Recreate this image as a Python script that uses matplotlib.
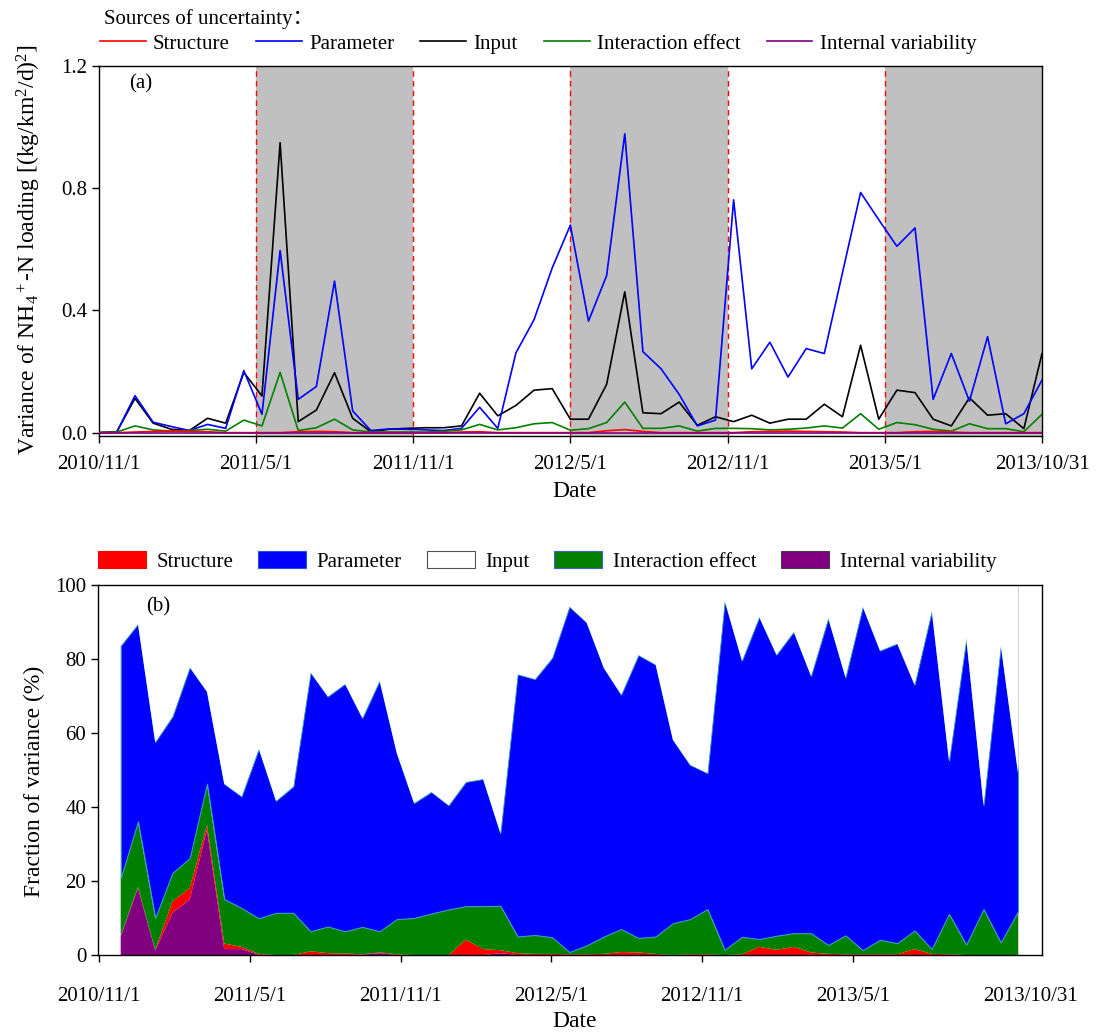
import matplotlib
matplotlib.use('Agg')
import matplotlib.pyplot as plt
import numpy as np
from matplotlib.patches import Patch
from matplotlib.lines import Line2D

plt.rcParams['font.family'] = ['Liberation Serif', 'Noto Sans CJK SC', 'DejaVu Sans']
plt.rcParams['mathtext.fontset'] = 'custom'
plt.rcParams['mathtext.rm'] = 'Liberation Serif'
plt.rcParams['mathtext.it'] = 'Liberation Serif:italic'

# ---------------- data ----------------
sources = ['Structure', 'Parameter', 'Input', 'Interaction effect', 'Internal variability']
tick_labels = ['2010/11/1', '2011/5/1', '2011/11/1', '2012/5/1', '2012/11/1', '2013/5/1', '2013/10/31']

# (a) variance of NH4+-N loading
var_structure = [0, 0, 0.002, 0.004, 0.005, 0.004, 0.003, 0, 0, 0,
                 0, 0.003, 0.004, 0.003, 0, 0, 0, 0, 0, 0,
                 0.002, 0.003, 0, 0, 0, 0, 0, 0, 0.006, 0.010,
                 0.004, 0, 0, 0, 0, 0, 0.003, 0.004, 0.005, 0.004,
                 0.003, 0.002, 0, 0, 0, 0.003, 0.004, 0.002, 0, 0,
                 0, 0, 0]
var_parameter = [0, 0.002, 0.121, 0.034, 0.020, 0.007, 0.027, 0.014, 0.203, 0.060,
                 0.596, 0.109, 0.151, 0.496, 0.071, 0.007, 0.012, 0.011, 0.009, 0.007,
                 0.014, 0.083, 0.014, 0.261, 0.370, 0.539, 0.679, 0.365, 0.514, 0.978,
                 0.265, 0.209, 0.125, 0.022, 0.041, 0.762, 0.209, 0.296, 0.182, 0.275,
                 0.259, 0.523, 0.786, 0.697, 0.610, 0.670, 0.109, 0.259, 0.103, 0.314,
                 0.029, 0.062, 0.172]
var_input = [0, 0.003, 0.112, 0.031, 0.011, 0.007, 0.047, 0.031, 0.197, 0.120,
             0.949, 0.036, 0.074, 0.196, 0.047, 0.003, 0.011, 0.014, 0.016, 0.016,
             0.022, 0.129, 0.055, 0.089, 0.139, 0.144, 0.044, 0.044, 0.158, 0.461,
             0.065, 0.062, 0.100, 0.024, 0.052, 0.036, 0.057, 0.031, 0.044, 0.044,
             0.093, 0.052, 0.286, 0.044, 0.139, 0.131, 0.044, 0.022, 0.114, 0.057,
             0.062, 0.013, 0.259]
var_interaction = [0, 0.002, 0.022, 0.009, 0.005, 0.007, 0.011, 0.005, 0.041, 0.022,
                   0.197, 0.007, 0.016, 0.044, 0.009, 0.002, 0.002, 0.002, 0.002, 0.004,
                   0.009, 0.027, 0.009, 0.016, 0.029, 0.033, 0.008, 0.013, 0.033, 0.100,
                   0.014, 0.014, 0.022, 0.005, 0.014, 0.014, 0.013, 0.009, 0.011, 0.015,
                   0.022, 0.015, 0.062, 0.011, 0.033, 0.026, 0.011, 0.005, 0.029, 0.013,
                   0.013, 0.003, 0.060]
var_internal = [0.0] * 53

# (b) fraction of variance (%)
frac_internal = [5.0, 18.1, 1.2, 11.4, 15.0, 33.9, 1.6, 1.6, 0.1, 0,
                 0, 0, 0, 0, 0.1, 0.5, 0, 0, 0, 0,
                 0, 0, 0.5, 0, 0, 0, 0, 0, 0, 0,
                 0, 0, 0, 0, 0, 0, 0, 0, 0, 0,
                 0, 0, 0, 0, 0, 0, 0, 0, 0, 0,
                 0, 0, 0]
frac_structure = [0.2, 0.3, 0.2, 3.1, 3.1, 1.3, 1.5, 0.6, 0.2, 0,
                  0, 1.0, 0.5, 0.4, 0.1, 0.2, 0.2, 0, 0, 0,
                  4.1, 1.6, 0.8, 0.5, 0.3, 0.3, 0.2, 0.2, 0.3, 0.8,
                  0.7, 0.3, 0, 0.2, 0.2, 0, 0.2, 2.2, 1.4, 2.2,
                  0.7, 0.3, 0.2, 0.2, 0.2, 0.2, 1.6, 0.3, 0.2, 0,
                  0, 0, 0]
frac_interaction = [15.6, 17.7, 8.6, 7.7, 8.1, 11.1, 12.0, 10.5, 9.6, 11.4,
                    11.4, 5.4, 7.2, 6.0, 7.4, 5.7, 9.5, 10.0, 11.2, 12.3,
                    9.1, 11.6, 12.0, 4.5, 5.1, 4.5, 0.6, 2.4, 4.7, 6.2,
                    3.9, 4.7, 8.6, 9.5, 12.2, 1.4, 4.7, 2.1, 3.8, 3.7,
                    5.2, 2.4, 5.1, 1.1, 3.9, 3.0, 5.0, 1.3, 10.9, 2.8,
                    12.4, 3.4, 11.8]
frac_parameter = [62.8, 53.4, 47.6, 42.3, 51.6, 24.9, 31.2, 30.2, 45.9, 30.3,
                  34.2, 70.0, 62.2, 66.9, 56.5, 67.8, 44.9, 31.1, 32.9, 28.2,
                  33.6, 34.4, 19.7, 70.9, 69.2, 75.5, 93.4, 87.3, 72.6, 63.4,
                  76.5, 73.5, 49.6, 41.7, 36.8, 94.4, 74.7, 87.1, 76.0, 81.5,
                  69.6, 88.4, 69.8, 92.9, 78.2, 81.0, 66.5, 91.5, 41.5, 82.8,
                  28.2, 80.4, 37.4]
frac_input = [16.4, 10.5, 42.4, 35.5, 22.2, 28.8, 53.7, 57.1, 44.2, 58.3,
              54.4, 23.6, 30.1, 26.7, 35.9, 25.8, 45.4, 58.9, 55.9, 59.5,
              53.2, 52.4, 67.0, 24.1, 25.4, 19.7, 5.8, 10.1, 22.4, 29.6,
              18.9, 21.5, 41.8, 48.6, 50.8, 4.2, 20.4, 8.6, 18.8, 12.6,
              24.5, 8.9, 24.9, 5.8, 17.7, 15.8, 26.9, 6.9, 47.4, 14.4,
              59.4, 16.2, 50.8]

# ---------------- figure ----------------
C_RED, C_BLUE, C_BLACK, C_GREEN, C_PURPLE = '#ff0000', '#0000ff', '#000000', '#008000', '#800080'
FS_TICK, FS_LAB, FS_LEG = 15, 17, 15

fig = plt.figure(figsize=(11, 10.36), dpi=100)
ax1 = fig.add_axes([98.7 / 1100, 1 - 436 / 1036, (1042 - 98.7) / 1100, 370 / 1036])
ax2 = fig.add_axes([98 / 1100, 1 - 955 / 1036, (1042 - 98) / 1100, 370 / 1036])

n = len(var_parameter)
x = np.arange(n)
ticks_a = np.linspace(0, n - 1, len(tick_labels))

# ---- panel (a) ----
for i in (1, 3, 5):
    ax1.axvspan(ticks_a[i], ticks_a[i + 1], facecolor='#c0c0c0', edgecolor='none', zorder=0)
for i in range(1, 6):
    ax1.axvline(ticks_a[i], color='red', lw=1.0, ls=(0, (4, 3)), zorder=1)

ax1.plot(x, var_input, color=C_BLACK, lw=1.2, zorder=3)
ax1.plot(x, var_parameter, color=C_BLUE, lw=1.2, zorder=4)
ax1.plot(x, var_interaction, color=C_GREEN, lw=1.2, zorder=5)
ax1.plot(x, var_structure, color=C_RED, lw=1.2, zorder=6)
ax1.plot(x, var_internal, color=C_PURPLE, lw=1.2, zorder=7)

ax1.set_xlim(0, n - 1)
ax1.set_ylim(-0.011, 1.2)
ax1.set_yticks([0, 0.4, 0.8, 1.2])
ax1.set_yticklabels(['0.0', '0.4', '0.8', '1.2'])
ax1.set_xticks(ticks_a)
ax1.set_xticklabels(tick_labels)
ax1.tick_params(axis='both', direction='out', length=5, width=1, labelsize=FS_TICK)
ax1.tick_params(axis='x', pad=9)
ax1.set_xlabel('Date', fontsize=FS_LAB)
ax1.xaxis.set_label_coords(0.505, -0.122)
ax1.set_ylabel(r'Variance of NH$_4$$^+$-N loading [(kg/km$^2$/d)$^2$]', fontsize=FS_LAB)
ax1.yaxis.set_label_coords(-0.059, 0.503)
ax1.text(0.045, 0.951, '(a)', transform=ax1.transAxes, fontsize=FS_TICK, ha='center', va='center')

fig.text(104 / 1100, 1 - 19 / 1036, 'Sources of uncertainty：', fontsize=FS_LEG, ha='left', va='center')
line_handles = [Line2D([], [], color=c, lw=1.2) for c in (C_RED, C_BLUE, C_BLACK, C_GREEN, C_PURPLE)]
fig.legend(line_handles, sources, loc='upper left', bbox_to_anchor=(100 / 1100, 1 - 34 / 1036),
           ncol=5, frameon=False, fontsize=FS_LEG, handlelength=2.2, handletextpad=0.35,
           columnspacing=1.25, borderpad=0, borderaxespad=0)

# ---- panel (b) ----
polys = ax2.stackplot(x, frac_internal, frac_structure, frac_interaction, frac_parameter, frac_input,
                      colors=[C_PURPLE, C_RED, C_GREEN, C_BLUE, 'white'], lw=0)
polys[3].set_edgecolor('#3f9fb0')
polys[3].set_linewidth(0.8)
ax2.axvline(n - 1, color='#c8c8c8', lw=1.2, zorder=0.5)

step_b = 8.74
ticks_b = [-1.26 + step_b * i for i in range(6)] + [52.7]
ax2.set_xlim(-1.315, 53.39)
ax2.set_ylim(0, 100)
ax2.set_yticks([0, 20, 40, 60, 80, 100])
ax2.set_xticks(ticks_b)
ax2.set_xticklabels(tick_labels)
ax2.tick_params(axis='both', direction='out', length=5, width=1, labelsize=FS_TICK)
ax2.tick_params(axis='x', pad=18)
ax2.xaxis.get_major_ticks()[-1].tick1line.set_visible(False)
ax2.set_xlabel('Date', fontsize=FS_LAB)
ax2.xaxis.set_label_coords(0.505, -0.152)
ax2.set_ylabel('Fraction of variance (%)', fontsize=FS_LAB)
ax2.yaxis.set_label_coords(-0.056, 0.47)
ax2.text(0.064, 0.94, '(b)', transform=ax2.transAxes, fontsize=FS_TICK, ha='center', va='center')

patch_handles = [Patch(facecolor=C_RED, edgecolor=C_RED, lw=0.8),
                 Patch(facecolor=C_BLUE, edgecolor='#3050d0', lw=0.8),
                 Patch(facecolor='white', edgecolor='#505050', lw=0.8),
                 Patch(facecolor=C_GREEN, edgecolor='#4060d0', lw=0.8),
                 Patch(facecolor=C_PURPLE, edgecolor='#404040', lw=0.8)]
fig.legend(patch_handles, sources, loc='upper left', bbox_to_anchor=(98 / 1100, 1 - 551 / 1036),
           ncol=5, frameon=False, fontsize=FS_LEG, handlelength=2.3, handleheight=0.85,
           handletextpad=0.5, columnspacing=1.2, borderpad=0, borderaxespad=0)

for ax in (ax1, ax2):
    for s in ax.spines.values():
        s.set_linewidth(1.0)
        s.set_color('black')

fig.savefig('out.png', dpi=100)
